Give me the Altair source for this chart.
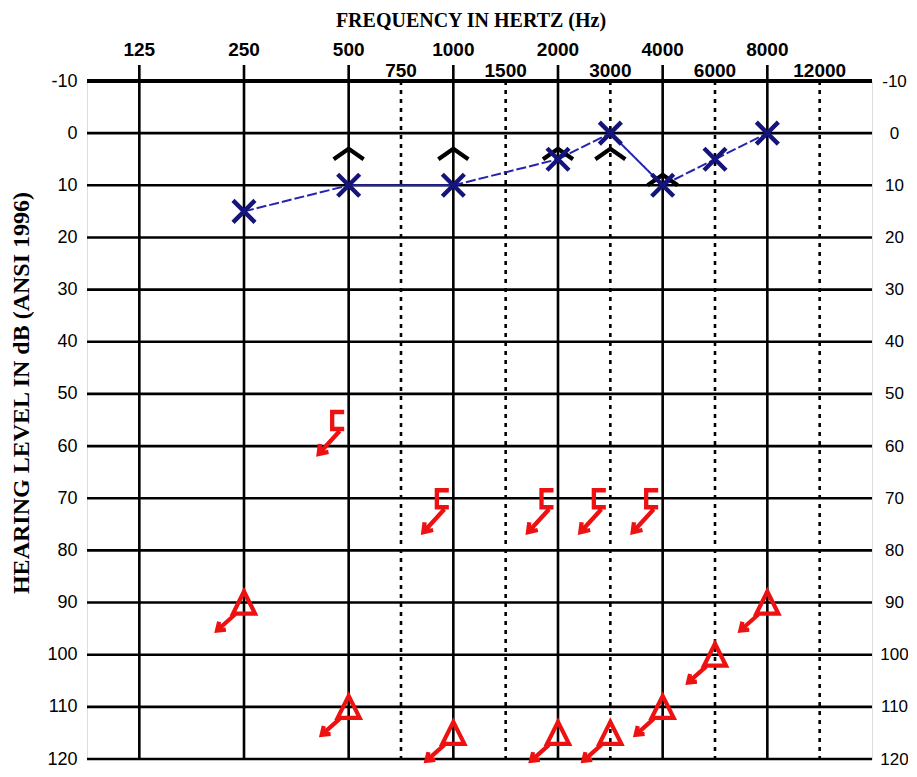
import math
import altair as alt
import pandas as pd

# ---------------- data ----------------
OCT_FREQ = [125, 250, 500, 1000, 2000, 4000, 8000]
HALF_FREQ = [750, 1500, 3000, 6000, 12000]
DB_TICKS = list(range(-10, 121, 10))

AIR_FREQ = [250, 500, 1000, 2000, 3000, 4000, 6000, 8000]
AIR_DB = [15, 10, 10, 5, 0, 10, 5, 0]
AIR_LINK = ["dashed", "solid", "dashed", "dashed", "solid", "dashed", "dashed"]

BONE_FREQ = [500, 1000, 2000, 3000, 4000]
BONE_DB = [5, 5, 5, 5, 10]

MBONE_FREQ = [500, 1000, 2000, 3000, 4000]
MBONE_DB = [55, 70, 70, 70, 70]

MAIR_FREQ = [250, 500, 1000, 2000, 3000, 4000, 6000, 8000]
MAIR_DB = [90, 110, 115, 115, 115, 110, 100, 90]

X_TITLE = "FREQUENCY IN HERTZ (Hz)"
Y_TITLE = "HEARING LEVEL IN dB (ANSI 1996)"


def pos(f):
    """Audiogram position: octaves above 125 Hz, inter-octave frequencies at the midpoint."""
    o = math.log2(f / 125)
    base = math.floor(o + 1e-9)
    return float(base) if abs(o - base) < 1e-9 else base + 0.5


W, H = 785, 678
xscale = alt.Scale(domain=[-0.5, 7], nice=False, zero=False)
yscale = alt.Scale(domain=[-10, 120], reverse=True, nice=False, zero=False)

LABEL_FONT = "Liberation Sans"

oct_df = pd.DataFrame({"f": OCT_FREQ, "pos": [pos(f) for f in OCT_FREQ], "label": [str(f) for f in OCT_FREQ]})
half_df = pd.DataFrame({"f": HALF_FREQ, "pos": [pos(f) for f in HALF_FREQ], "label": [str(f) for f in HALF_FREQ]})
db_df = pd.DataFrame({"db": DB_TICKS})

X = alt.X("pos:Q", scale=xscale, axis=None)

# horizontal grid + left axis
hgrid = alt.Chart(db_df).mark_rule(color="black").encode(
    y=alt.Y("db:Q", scale=yscale,
            axis=alt.Axis(orient="left", values=DB_TICKS, title=None, domain=False, ticks=False,
                          grid=False, labelFont=LABEL_FONT, labelFontSize=18, labelColor="black",
                          labelPadding=10, labelAlign="right", labelBaseline="middle",
                          labelExpr="'' + datum.value")),
    strokeWidth=alt.condition("datum.db == -10", alt.value(4), alt.value(2.6)),
)
# right axis (transparent carrier)
raxis = alt.Chart(db_df).mark_rule(opacity=0).encode(
    y=alt.Y("db:Q", scale=yscale,
            axis=alt.Axis(orient="right", values=DB_TICKS, title=None, domain=False, ticks=False,
                          grid=False, labelFont=LABEL_FONT, labelFontSize=17, labelColor="black",
                          labelPadding=22, labelAlign="center", labelBaseline="middle",
                          labelExpr="'' + datum.value")),
)

vsolid = alt.Chart(oct_df).mark_rule(color="black", strokeWidth=2.6).encode(
    x=X, y=alt.value(-16), y2=alt.value(H)
)
vdash = alt.Chart(half_df).mark_rule(color="black", strokeWidth=2.6, strokeDash=[4, 5]).encode(
    x=X, y=alt.value(0), y2=alt.value(H)
)

top_labels = alt.Chart(oct_df).mark_text(font=LABEL_FONT, fontSize=19, fontWeight="bold",
                                         baseline="alphabetic", color="black").encode(
    x=X, y=alt.value(-25), text="label:N"
)
half_labels = alt.Chart(half_df).mark_text(font=LABEL_FONT, fontSize=19, fontWeight="bold",
                                           baseline="alphabetic", color="black").encode(
    x=X, y=alt.value(-4), text="label:N"
)

# air conduction connecting segments
seg_rows = []
for i, style in enumerate(AIR_LINK):
    for j in (i, i + 1):
        seg_rows.append({"seg": i, "style": style, "pos": pos(AIR_FREQ[j]), "db": AIR_DB[j]})
seg_df = pd.DataFrame(seg_rows)
air_line = alt.Chart(seg_df).mark_line(color="#2424b0", strokeWidth=2).encode(
    x=X, y=alt.Y("db:Q", scale=yscale, axis=None), detail="seg:N",
    strokeDash=alt.StrokeDash("style:N", scale=alt.Scale(domain=["dashed", "solid"], range=[[10, 3], [1, 0]]),
                              legend=None),
)

air_df = pd.DataFrame({"pos": [pos(f) for f in AIR_FREQ], "db": AIR_DB})
bone_df = pd.DataFrame({"pos": [pos(f) for f in BONE_FREQ], "db": BONE_DB})
mbone_df = pd.DataFrame({"pos": [pos(f) for f in MBONE_FREQ], "db": MBONE_DB})
mair_df = pd.DataFrame({"pos": [pos(f) for f in MAIR_FREQ], "db": MAIR_DB})

Y = alt.Y("db:Q", scale=yscale, axis=None)

X_PATH = "M-1,-1L1,1M-1,1L1,-1"
CARET_PATH = "M-1,0L0,-0.7L1,0"
BRACKET_PATH = ("M-0.125,-0.222L-0.458,-0.222L-0.458,0.25L-0.125,0.25"
                "M-0.25,0.306L-0.833,0.944M-0.797,0.669L-0.833,0.944L-0.561,0.883")
TRI_PATH = ("M0,-0.367L-0.367,0.367L0.367,0.367Z"
            "M-0.3,0.4L-0.9,0.933M-0.83,0.64L-0.9,0.933L-0.603,0.9")

air_pts = alt.Chart(air_df).mark_point(shape=X_PATH, size=484, filled=False, strokeWidth=4.4,
                                       color="#14147a", opacity=1).encode(x=X, y=Y)
bone_pts = alt.Chart(bone_df).mark_point(shape=CARET_PATH, size=900, filled=False, strokeWidth=4.2,
                                         color="black", opacity=1).encode(x=X, y=Y)
mbone_pts = alt.Chart(mbone_df).mark_point(shape=BRACKET_PATH, size=5184, filled=False, strokeWidth=4.3,
                                           color="#ee1111", opacity=1).encode(x=X, y=Y)
mair_pts = alt.Chart(mair_df).mark_point(shape=TRI_PATH, size=3600, filled=False, strokeWidth=4.2,
                                         color="#ee1111", opacity=1).encode(x=X, y=Y)

title_df = pd.DataFrame({"t": [X_TITLE]})
x_title = alt.Chart(title_df).mark_text(font="Liberation Serif", fontSize=20, fontWeight="bold",
                                        baseline="alphabetic", color="black").encode(
    x=alt.value(384), y=alt.value(-54), text="t:N"
)
ytitle_df = pd.DataFrame({"t": [Y_TITLE]})
y_title = alt.Chart(ytitle_df).mark_text(font="Liberation Serif", fontSize=24, fontWeight="bold",
                                         angle=270, baseline="middle", align="center", color="black").encode(
    x=alt.value(-65), y=alt.value(312), text="t:N"
)

chart = alt.layer(
    hgrid, raxis, vsolid, vdash, top_labels, half_labels, air_line,
    bone_pts, air_pts, mbone_pts, mair_pts, x_title, y_title
).resolve_axis(y="independent").properties(
    width=W, height=H,
    padding={"left": 79, "top": 73, "right": 36, "bottom": 10},
    autosize=alt.AutoSizeParams(type="none"),
).configure_view(stroke="black", strokeWidth=2.6).configure(background="white")

chart.save("out.html", embed_options={"renderer": "svg", "actions": False})
